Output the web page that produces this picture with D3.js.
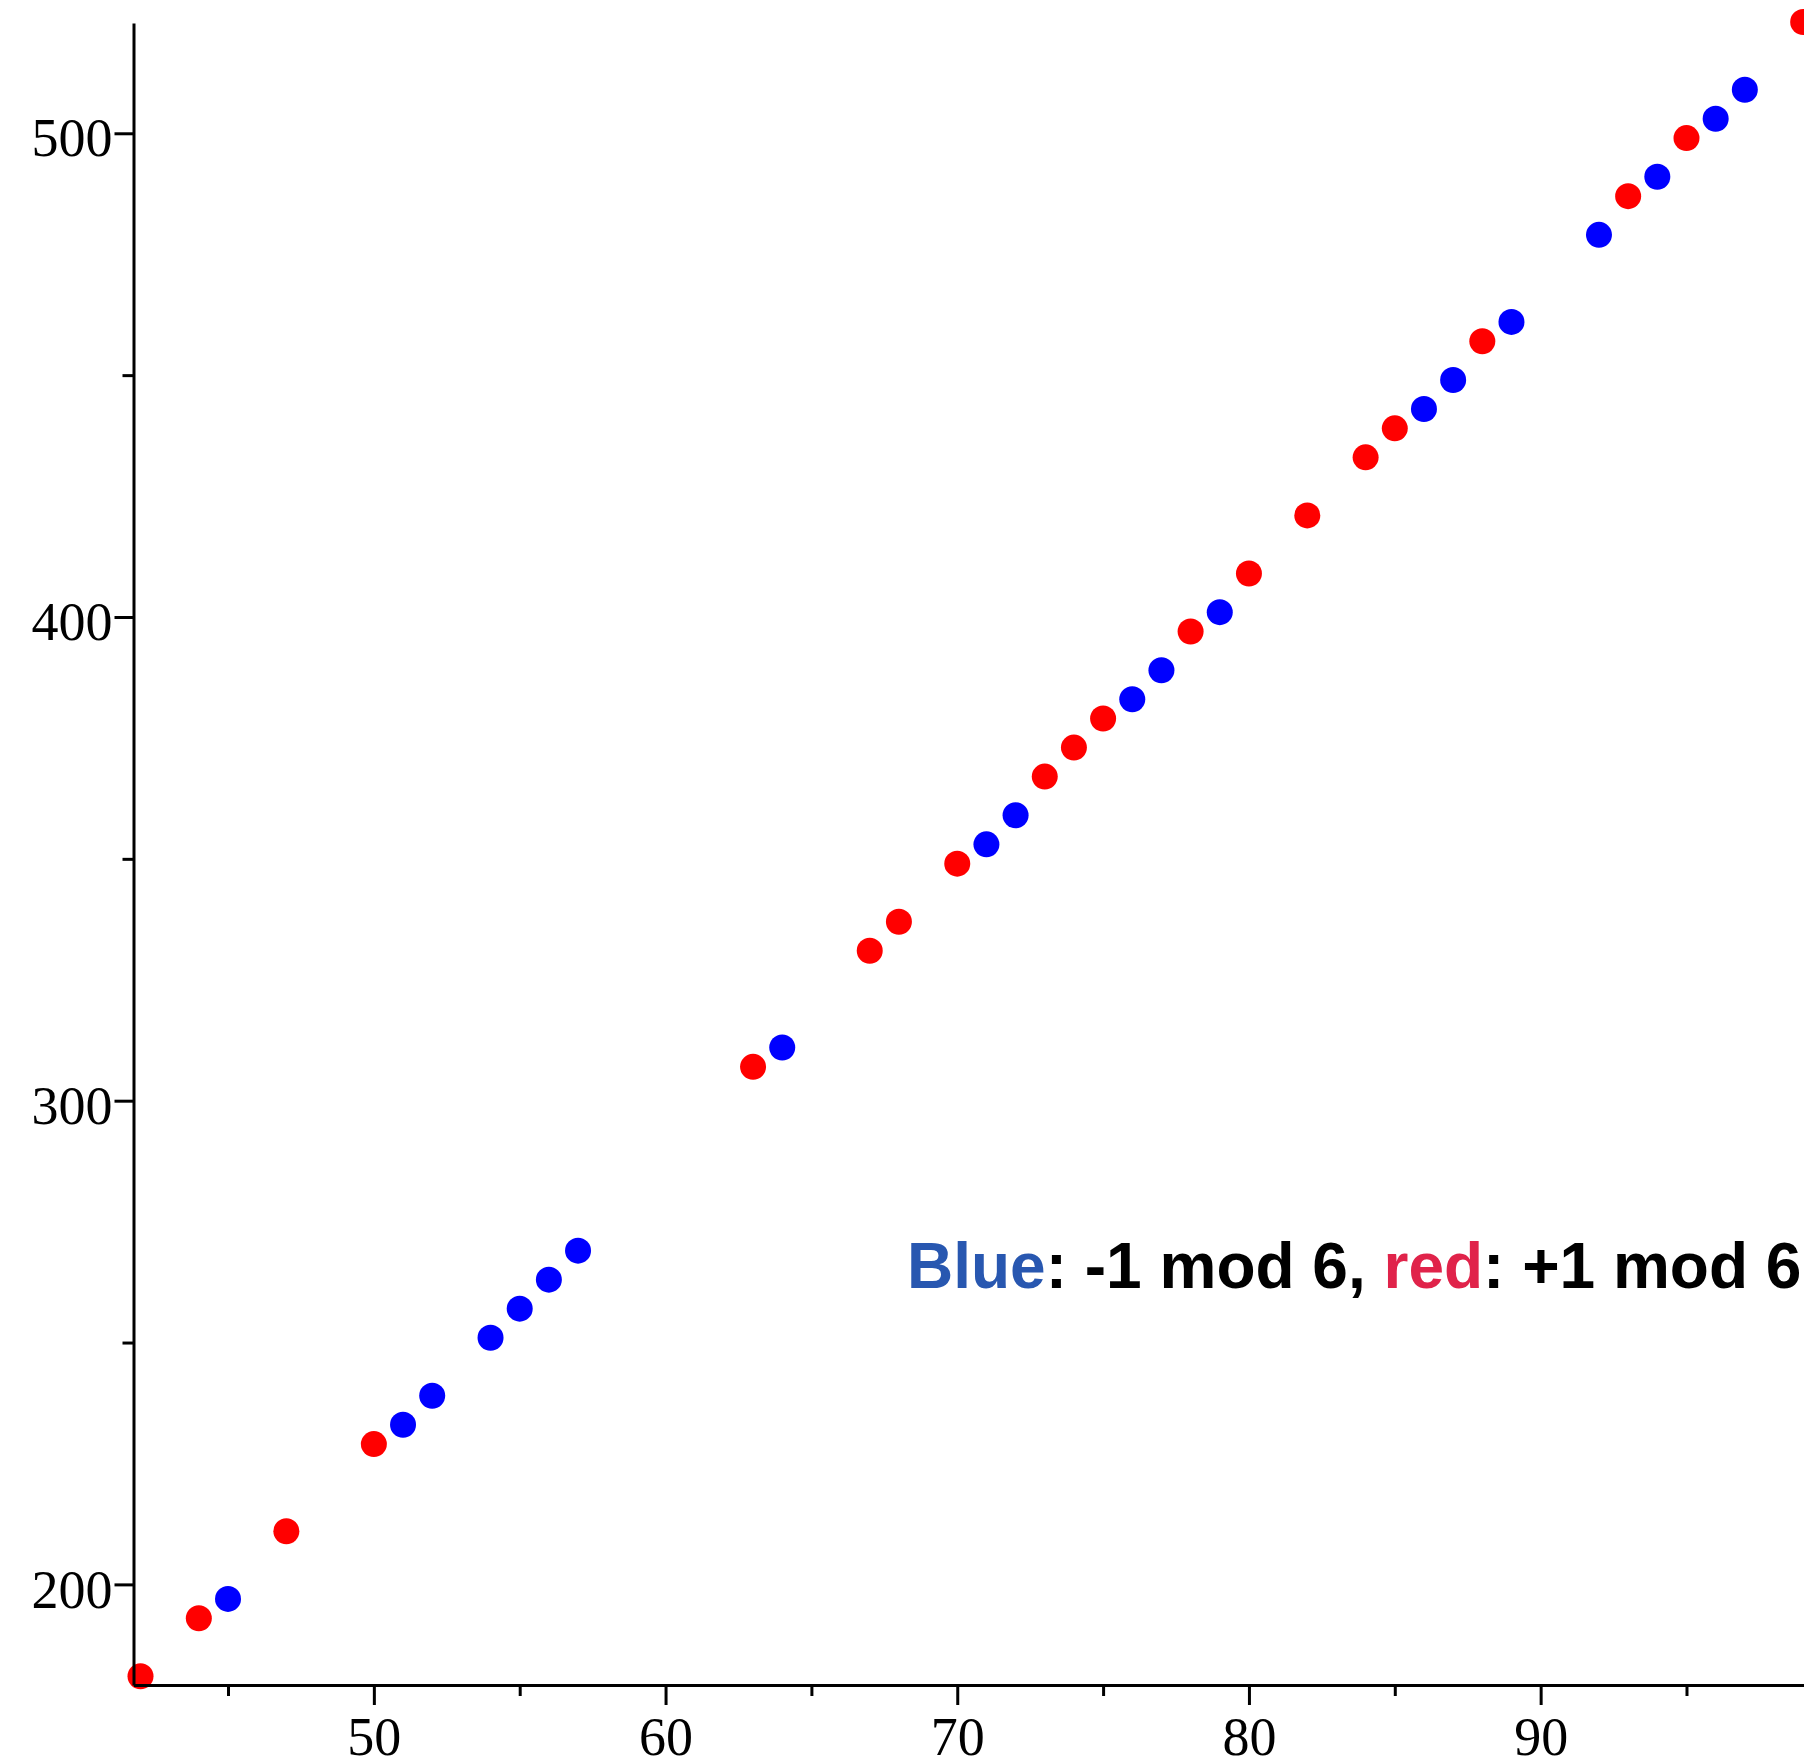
<!DOCTYPE html>
<html>
<head>
<meta charset="utf-8">
<script src="https://cdn.jsdelivr.net/npm/d3@7"></script>
<style>
  body { margin: 0; background: #fff; overflow: hidden; }
</style>
</head>
<body>
<div id="chart"></div>
<script>
// n-th prime, split by residue mod 6
var blueN = [45, 51, 52, 54, 55, 56, 57, 64, 71, 72, 76, 77, 79, 86, 87, 89, 92, 94, 96, 97];
var blueP = [197, 233, 239, 251, 257, 263, 269, 311, 353, 359, 383, 389, 401, 443, 449, 461, 479, 491, 503, 509];
var redN = [42, 44, 47, 50, 63, 67, 68, 70, 73, 74, 75, 78, 80, 82, 84, 85, 88, 93, 95, 99];
var redP = [181, 193, 211, 229, 307, 331, 337, 349, 367, 373, 379, 397, 409, 421, 433, 439, 457, 487, 499, 523];

var xMajor = [50, 60, 70, 80, 90];
var xMinor = [45, 55, 65, 75, 85, 95];
var yMajor = [200, 300, 400, 500];
var yMinor = [250, 350, 450];

var svgWidth = 1804;
var svgHeight = 1758;

var svg = d3.select("#chart")
  .append("svg")
  .attr("width", svgWidth)
  .attr("height", svgHeight);

var x = d3.scaleLinear()
  .domain([41.76, 99.2])
  .range([133.5, 1809]);

var y = d3.scaleLinear()
  .domain([179.2, 522.8])
  .range([1685, 23]);

var blue = blueN.map((n, i) => ({ n: n, p: blueP[i] }));
var red = redN.map((n, i) => ({ n: n, p: redP[i] }));

// points first, axes drawn over them
svg.append("g").selectAll("circle")
  .data(red)
  .enter()
  .append("circle")
  .attr("cx", d => x(d.n))
  .attr("cy", d => y(d.p))
  .attr("r", 13)
  .attr("fill", "#ff0000");

svg.append("g").selectAll("circle")
  .data(blue)
  .enter()
  .append("circle")
  .attr("cx", d => x(d.n))
  .attr("cy", d => y(d.p))
  .attr("r", 13)
  .attr("fill", "#0000ff");

function styleAxis(g) {
  g.selectAll("path, line").attr("stroke", "#000").attr("stroke-width", 3);
  g.selectAll("text")
    .attr("font-family", "'Liberation Serif', 'Times New Roman', serif")
    .attr("font-size", "54px")
    .attr("fill", "#000");
}

// minor ticks
svg.append("g")
  .attr("transform", "translate(0,1685)")
  .call(d3.axisBottom(x).tickValues(xMinor).tickSize(11).tickFormat("").tickSizeOuter(0))
  .call(styleAxis)
  .select(".domain").remove();

svg.append("g")
  .attr("transform", "translate(133.5,0)")
  .call(d3.axisLeft(y).tickValues(yMinor).tickSize(11).tickFormat("").tickSizeOuter(0))
  .call(styleAxis)
  .select(".domain").remove();

// major ticks + axis lines
var xAxis = svg.append("g")
  .attr("transform", "translate(0,1685)")
  .call(d3.axisBottom(x).tickValues(xMajor).tickSize(20).tickPadding(12).tickSizeOuter(0))
  .call(styleAxis);

var yAxis = svg.append("g")
  .attr("transform", "translate(133.5,0)")
  .call(d3.axisLeft(y).tickValues(yMajor).tickSize(19).tickPadding(2).tickSizeOuter(0))
  .call(styleAxis);

yAxis.selectAll("text").attr("dy", "0.42em");

// annotation
var note = svg.append("text")
  .attr("x", 907)
  .attr("y", 1288)
  .attr("font-family", "'Liberation Sans', Arial, Helvetica, sans-serif")
  .attr("font-weight", "bold")
  .attr("font-size", "64px")
  .attr("fill", "#000");

note.append("tspan").attr("fill", "#2857b0").text("Blue");
note.append("tspan").text(": -1 mod 6, ");
note.append("tspan").attr("fill", "#e0234a").text("red");
note.append("tspan").text(": +1 mod 6");
</script>
</body>
</html>
